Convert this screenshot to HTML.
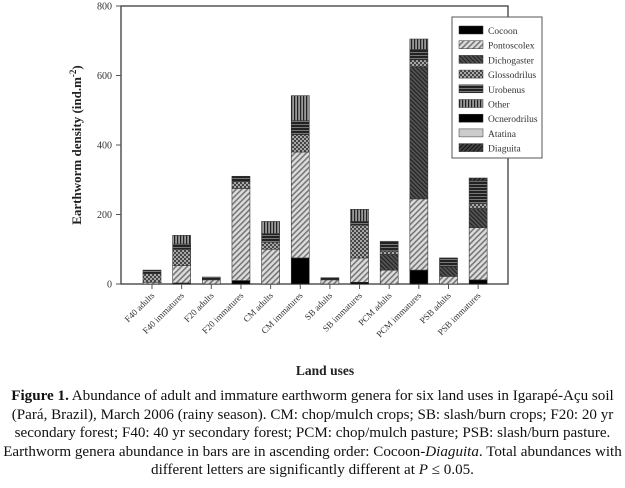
<!DOCTYPE html>
<html><head><meta charset="utf-8"><style>
body{margin:0;background:#fff;width:625px;height:488px;overflow:hidden;font-family:"Liberation Serif",serif}
#cap{position:absolute;left:0;top:387px;width:625px;text-align:center;font-size:15.1px;line-height:18.6px;color:#111;white-space:nowrap}
</style></head><body>
<svg id="chart" width="625" height="385" style="position:absolute;left:0;top:0" font-family="Liberation Serif, serif">
<defs>
<pattern id="p-pont" width="4" height="4" patternUnits="userSpaceOnUse" patternTransform="rotate(45)"><rect width="4" height="4" fill="#ddd"/><rect width="1.6" height="4" fill="#777"/></pattern>
<pattern id="p-dicho" width="3" height="3" patternUnits="userSpaceOnUse" patternTransform="rotate(-45)"><rect width="3" height="3" fill="#555"/><rect width="1.2" height="3" fill="#222"/></pattern>
<pattern id="p-gloss" width="4" height="4" patternUnits="userSpaceOnUse"><rect width="4" height="4" fill="#444"/><circle cx="1" cy="1" r="0.9" fill="#eee"/><circle cx="3" cy="3" r="0.9" fill="#eee"/></pattern>
<pattern id="p-urob" width="3" height="3" patternUnits="userSpaceOnUse"><rect width="3" height="3" fill="#222"/><rect y="1" width="3" height="1" fill="#777"/></pattern>
<pattern id="p-other" width="3" height="3" patternUnits="userSpaceOnUse"><rect width="3" height="3" fill="#999"/><rect width="1.2" height="3" fill="#222"/></pattern>
<pattern id="p-diag" width="3" height="3" patternUnits="userSpaceOnUse" patternTransform="rotate(45)"><rect width="3" height="3" fill="#444"/><rect width="1" height="3" fill="#111"/></pattern>
</defs>
<g id="plot"></g>
</svg>
<div id="cap"><b>Figure 1.</b> Abundance of adult and immature earthworm genera for six land uses in Igarapé-Açu soil<br>(Pará, Brazil), March 2006 (rainy season). CM: chop/mulch crops; SB: slash/burn crops; F20: 20 yr<br>secondary forest; F40: 40 yr secondary forest; PCM: chop/mulch pasture; PSB: slash/burn pasture.<br>Earthworm genera abundance in bars are in ascending order: Cocoon-<i>Diaguita</i>. Total abundances with<br>different letters are significantly different at <i>P</i> ≤ 0.05.</div>
<script>
const categories=["F40 adults","F40 immatures","F20 adults","F20 immatures","CM adults","CM immatures","SB adults","SB immatures","PCM adults","PCM immatures","PSB adults","PSB immatures"];
const seriesNames=["Cocoon","Pontoscolex","Dichogaster","Glossodrilus","Urobenus","Other","Ocnerodrilus","Atatina","Diaguita"];
const cocoon=[0,3,0,10,0,75,0,5,0,40,0,12];
const pontoscolex=[5,50,12,265,100,305,12,70,40,205,22,150];
const dichogaster=[0,0,0,0,0,0,0,0,45,380,28,55];
const glossodrilus=[25,47,0,20,20,50,0,95,10,20,0,15];
const urobenus=[10,15,8,15,25,40,6,10,28,30,25,65];
const other=[0,25,0,0,35,72,0,35,0,30,0,0];
const ocnerodrilus=[0,0,0,0,0,0,0,0,0,0,0,0];
const atatina=[0,0,0,0,0,0,0,0,0,0,0,0];
const diaguita=[0,0,0,0,0,0,0,0,0,0,0,8];
const yTicks=[0,200,400,600,800];
const series=[cocoon,pontoscolex,dichogaster,glossodrilus,urobenus,other,ocnerodrilus,atatina,diaguita];
const fills=["#000","url(#p-pont)","url(#p-dicho)","url(#p-gloss)","url(#p-urob)","url(#p-other)","#000","#ccc","url(#p-diag)"];
const NS="http://www.w3.org/2000/svg";
const L=121,R=508,T=6,B=284;
const y=v=>B-v*(B-T)/800;
const x=i=>152+i*29.65;
const g=document.getElementById('plot');
function mk(t,a){const e=document.createElementNS(NS,t);for(const k in a)e.setAttribute(k,a[k]);g.appendChild(e);return e;}
const frame=mk('rect',{x:L,y:T,width:R-L,height:B-T,fill:'none',stroke:'#555','stroke-width':1.5});


yTicks.forEach(t=>{
 const tk=mk('line',{x1:L-5,x2:L,y1:y(t),y2:y(t),stroke:'#555'});
 
 
 const tl=mk('text',{x:L-9,y:y(t)+3.5,'font-size':10,'text-anchor':'end',fill:'#333'});tl.textContent=t;
 
 
});
categories.forEach((c,i)=>{
 let acc=0;
 series.forEach((s,k)=>{
  const v=s[i]; if(!v){return;}
  const r=mk('rect',{x:x(i)-9,y:y(acc+v),width:18,height:y(acc)-y(acc+v),fill:fills[k],stroke:'#333','stroke-width':0.6});
  
  
  acc+=v;
 });
 const tk=mk('line',{x1:x(i),x2:x(i),y1:B,y2:B+5,stroke:'#555'});
 
 
 const tl=mk('text',{x:x(i)+3,y:B+12,'font-size':9,'text-anchor':'end',fill:'#333',transform:`rotate(-45 ${x(i)+3} ${B+12})`});tl.textContent=c;
 
 
});
const yt=mk('text',{x:0,y:0,'font-size':13,'font-weight':'bold','text-anchor':'middle',fill:'#222',transform:`translate(81 ${(T+B)/2}) rotate(-90)`});
yt.innerHTML='Earthworm density (ind.m<tspan font-size="9" dy="-5">-2</tspan><tspan dy="5">)</tspan>';


const xt=mk('text',{x:325,y:375,'font-size':13.5,'font-weight':'bold','text-anchor':'middle',fill:'#222'});xt.textContent='Land uses';


const lb=mk('rect',{x:452,y:17,width:90,height:141,fill:'#fff',stroke:'#555'});


seriesNames.forEach((n,k)=>{
 const ly=26+k*14.7;
 const sw=mk('rect',{x:459,y:ly,width:24,height:8,fill:fills[k],stroke:'#333','stroke-width':0.5});
 
 
 const t=mk('text',{x:488,y:ly+8,'font-size':9.5,fill:'#333'});t.textContent=n;
 
 
});
</script>
</body></html>
